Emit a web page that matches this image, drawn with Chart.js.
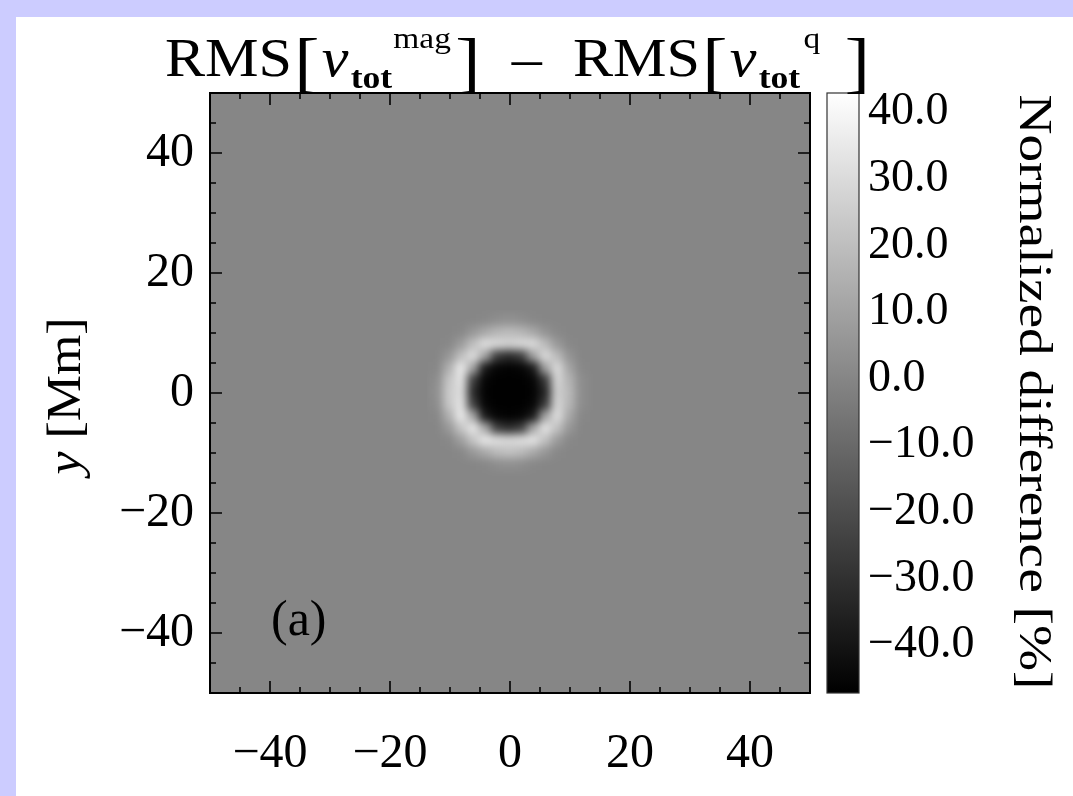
<!DOCTYPE html>
<html><head><meta charset="utf-8">
<script src="https://cdn.jsdelivr.net/npm/chart.js@4.4.1/dist/chart.umd.min.js"></script>
<style>
html,body{margin:0;padding:0;background:#fff;overflow:hidden;}
#wrap{position:relative;width:1073px;height:796px;background:#fff;overflow:hidden;}
#bandL{position:absolute;left:0;top:0;width:16px;height:796px;background:#ccccff;}
#bandT{position:absolute;left:0;top:0;width:1073px;height:17px;background:#ccccff;}
canvas{position:absolute;left:0;top:0;}
</style></head><body>
<div id="wrap"><div id="bandL"></div><div id="bandT"></div><canvas id="c" width="1073" height="796"></canvas></div>
<script>
// ---- data ----
const gridX = [-14,-12,-10,-8,-6,-4,-2,0,2,4,6,8,10,12,14];   // Mm, cell centres
const gridY = [14,12,10,8,6,4,2,0,-2,-4,-6,-8,-10,-12,-14];   // Mm, top to bottom
const diffValues = [                                         // normalized difference [%]
  [0,0,0,0,0,0,0,0,0,0,0,0,0,0,0],
  [0,0,0,0,0,1,3,4,3,1,0,0,0,0,0],
  [0,0,0,1,6,12,17,19,17,12,5,1,0,0,0],
  [0,0,1,8,20,31,29,27,29,30,19,7,1,0,0],
  [0,0,6,20,31,10,-26,-32,-26,9,30,19,5,0,0],
  [0,1,15,35,10,-38,-45,-46,-45,-38,9,30,11,1,0],
  [0,3,22,33,-25,-45,-47,-47,-47,-45,-27,28,16,3,0],
  [0,4,24,31,-32,-46,-47,-47,-47,-46,-34,26,18,3,0],
  [0,3,23,33,-25,-45,-47,-47,-47,-45,-27,28,17,3,0],
  [0,1,15,35,11,-38,-45,-46,-45,-38,10,31,12,1,0],
  [0,0,7,22,34,12,-25,-31,-25,11,33,21,6,0,0],
  [0,0,1,9,22,34,31,29,31,33,21,8,1,0,0],
  [0,0,0,1,7,13,19,21,19,13,6,1,0,0,0],
  [0,0,0,0,0,1,3,4,3,1,0,0,0,0,0],
  [0,0,0,0,0,0,0,0,0,0,0,0,0,0,0]
];
const backgroundValue = 0;
const axisRange = [-50, 50];
const xTicks = [-40,-20,0,20,40];
const yTicks = [-40,-20,0,20,40];
const minorTicks = [-45,-35,-30,-25,-15,-10,-5,5,10,15,25,30,35,45];
const cbRange = [-47.2, 42.9];
const cbTicks = [-40,-30,-20,-10,0,10,20,30,40];

// ---- helpers ----
const SERIF = '"Liberation Serif", "Times New Roman", serif';
const cellSize = gridX[1] - gridX[0];
const points = [];
gridY.forEach((yv,i)=>gridX.forEach((xv,j)=>points.push({x:xv,y:yv,v:diffValues[i][j]})));
function grayFor(v){
  const t=(v-cbRange[0])/(cbRange[1]-cbRange[0]);
  const g=Math.round(Math.max(0,Math.min(1,t))*255);
  return 'rgb('+g+','+g+','+g+')';
}
const minus = v => (v<0?'\u2212':'') + Math.abs(v);
const minus1 = v => (v<0?'\u2212':'') + Math.abs(v).toFixed(1);
const cellRadius = c => { const s=c.chart.scales.x; return Math.abs(s.getPixelForValue(cellSize)-s.getPixelForValue(0))/Math.SQRT2 + 1.5; };

function drawRuns(ctx, runs, x0, base, target){
  ctx.save();
  let w=0; runs.forEach(r=>{ctx.font=r.f; r.w=ctx.measureText(r.t).width; w+=r.w+(r.gap||0);});
  const sx = target? target/w : 1;
  ctx.translate(x0, base); ctx.scale(sx,1);
  let x=0; ctx.fillStyle='#000'; ctx.textBaseline='alphabetic'; ctx.textAlign='left';
  runs.forEach(r=>{x+=(r.gap||0); ctx.font=r.f; ctx.fillText(r.t,x,r.dy||0); x+=r.w;});
  ctx.restore();
}

const mapPlugin = {
  id:'mapPlugin',
  beforeDatasetsDraw(chart){
    const {ctx, chartArea:a, scales} = chart;
    ctx.save();
    ctx.fillStyle = grayFor(backgroundValue);
    ctx.fillRect(a.left, a.top, a.right-a.left, a.bottom-a.top);
    const cb = scales.cb;
    const y0 = cb.getPixelForValue(cbRange[1]), y1 = cb.getPixelForValue(cbRange[0]);
    const x0 = cb.left + 17, w = 32;
    const g = ctx.createLinearGradient(0,y0,0,y1);
    g.addColorStop(0,'#ffffff'); g.addColorStop(1,'#000000');
    ctx.fillStyle = g; ctx.fillRect(x0,y0,w,y1-y0);
    ctx.strokeStyle='#333'; ctx.lineWidth=1.2; ctx.strokeRect(x0,y0,w,y1-y0);
    ctx.restore();
  },
  afterDatasetDraw(chart){
    // smooth the cell mosaic (bilinear-like look of the original image)
    const {ctx, scales:{x,y}} = chart;
    const L = Math.floor(x.getPixelForValue(gridX[0]-cellSize)), R = Math.ceil(x.getPixelForValue(gridX[gridX.length-1]+cellSize));
    const T = Math.floor(y.getPixelForValue(gridY[0]+cellSize)), B = Math.ceil(y.getPixelForValue(gridY[gridY.length-1]-cellSize));
    const w=R-L, h=B-T;
    const off=document.createElement('canvas'); off.width=w; off.height=h;
    off.getContext('2d').drawImage(chart.canvas, L, T, w, h, 0, 0, w, h);
    ctx.save();
    const inset=13;
    ctx.beginPath(); ctx.rect(L+inset,T+inset,w-2*inset,h-2*inset); ctx.clip();
    ctx.filter='blur(4.5px)';
    ctx.drawImage(off, L, T);
    ctx.restore();
  },
  afterDatasetsDraw(chart){
    const {ctx, chartArea:a, scales:{x,y}} = chart;
    ctx.save();
    ctx.strokeStyle='#000';
    ctx.lineWidth=1.6;
    const tick=(vals,len)=>{
      vals.forEach(v=>{
        const px=x.getPixelForValue(v), py=y.getPixelForValue(v);
        ctx.beginPath();
        ctx.moveTo(px,a.bottom); ctx.lineTo(px,a.bottom-len);
        ctx.moveTo(px,a.top); ctx.lineTo(px,a.top+len);
        ctx.moveTo(a.left,py); ctx.lineTo(a.left+len,py);
        ctx.moveTo(a.right,py); ctx.lineTo(a.right-len,py);
        ctx.stroke();
      });
    };
    tick(xTicks,12); tick(minorTicks,6);
    ctx.lineWidth=2;
    ctx.strokeRect(a.left,a.top,a.right-a.left,a.bottom-a.top);
    // panel label
    ctx.fillStyle='#000'; ctx.font='50px '+SERIF; ctx.textBaseline='alphabetic';
    ctx.fillText('(a)', 271, 635);
    ctx.restore();
  },
  afterDraw(chart){
    const ctx = chart.ctx;
    // title
    const big='54px '+SERIF, br='68px '+SERIF, it='italic 54px '+SERIF, sub='bold 32px '+SERIF, sup='30px '+SERIF;
    drawRuns(ctx,[
      {t:'RMS',f:big},{t:'[',f:br,dy:9,gap:2},{t:'v',f:it,gap:2},{t:'tot',f:sub,dy:12,gap:2},
      {t:'mag',f:sup,dy:-28,gap:1},{t:']',f:br,dy:9,gap:4},
      {t:'\u2013',f:big,gap:28},
      {t:'RMS',f:big,gap:28},{t:'[',f:br,dy:9,gap:2},{t:'v',f:it,gap:2},{t:'tot',f:sub,dy:12,gap:2},
      {t:'q',f:sup,dy:-28,gap:3},{t:']',f:br,dy:9,gap:22}
    ],165,76,705);
    // y axis title
    ctx.save();
    ctx.translate(80,396); ctx.rotate(-Math.PI/2);
    ctx.font='italic 48px '+SERIF; const wy=ctx.measureText('y ').width;
    ctx.font='48px '+SERIF; const wm=ctx.measureText('[Mm]').width;
    const tw=wy+wm, sx=157/tw;
    ctx.scale(sx,1);
    ctx.fillStyle='#000'; ctx.textBaseline='alphabetic';
    ctx.font='italic 48px '+SERIF; ctx.fillText('y ',-tw/2,0);
    ctx.font='48px '+SERIF; ctx.fillText('[Mm]',-tw/2+wy,0);
    ctx.restore();
    // colorbar title
    ctx.save();
    ctx.translate(1020,392); ctx.rotate(Math.PI/2);
    ctx.font='46px '+SERIF; const txt='Normalized difference [%]';
    const w2=ctx.measureText(txt).width; ctx.scale(595/w2,1);
    ctx.fillStyle='#000'; ctx.textBaseline='alphabetic';
    ctx.fillText(txt,-w2/2,0);
    ctx.restore();
  }
};

Chart.defaults.font.family = SERIF;
Chart.defaults.color = '#000';

new Chart(document.getElementById('c'), {
  type:'scatter',
  data:{datasets:[{
    data: points,
    pointStyle:'rect',
    pointRadius: cellRadius,
    pointHoverRadius: cellRadius,
    borderWidth:0,
    backgroundColor: c => grayFor(c.raw ? c.raw.v : 0)
  }]},
  options:{
    responsive:false, animation:false, events:[],
    layout:{padding:{top:93,left:0,right:0,bottom:0}},
    plugins:{legend:{display:false}, tooltip:{enabled:false}, title:{display:false}},
    scales:{
      x:{type:'linear', position:'bottom', min:axisRange[0], max:axisRange[1],
        grid:{display:false, drawTicks:false}, border:{display:false},
        ticks:{font:{size:48}, color:'#000', padding:33, maxRotation:0, autoSkip:false, callback:v=>minus(v)},
        afterBuildTicks:s=>{ s.ticks = xTicks.map(v=>({value:v})); },
        afterFit:s=>{ s.height = 103; }},
      y:{type:'linear', position:'left', min:axisRange[0], max:axisRange[1],
        grid:{display:false, drawTicks:false}, border:{display:false},
        ticks:{font:{size:48}, color:'#000', padding:16, autoSkip:false, callback:v=>minus(v)},
        afterBuildTicks:s=>{ s.ticks = yTicks.map(v=>({value:v})); },
        afterFit:s=>{ s.width = 210; }},
      cb:{type:'linear', position:'right', min:cbRange[0], max:cbRange[1],
        grid:{display:false, drawTicks:false}, border:{display:false},
        ticks:{font:{size:46}, color:'#000', padding:58, autoSkip:false, callback:v=>minus1(v)},
        afterBuildTicks:s=>{ s.ticks = cbTicks.map(v=>({value:v})); },
        afterFit:s=>{ s.width = 263; }}
    }
  },
  plugins:[mapPlugin]
});
</script>
</body></html>
